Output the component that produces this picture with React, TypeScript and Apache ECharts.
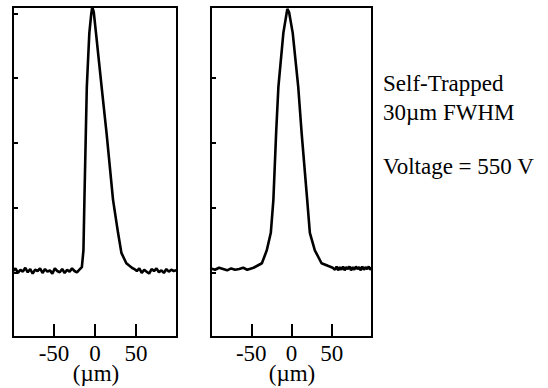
import React, { useEffect, useRef } from "react";
import * as echarts from "echarts";

const xTickValues = [-50, 0, 50];
const leftTickValues = [1, 2, 3, 4, 5];
const rightTickValues = [1, 2, 3, 4];

const leftX = [
  -100, -97, -94, -91, -88, -85, -82, -79, -76, -73, -70, -67, -64, -61, -58, -55, -52, -49, -46, -43,
  -40, -37, -34, -31, -28, -25, -22, -19, -16, -14.1, -12.9, -11.2, -10, -8.4, -6.9, -4.5, -3.3, -1.5,
  1.2, 4.5, 8.1, 14.1, 22, 28.1, 32.2, 38.2, 42, 45, 48, 51, 54, 57, 60, 63, 66, 69, 72, 75, 78, 81,
  84, 87, 90, 93, 96, 99, 100,
];
const leftY = [
  1.02, 1.06, 0.99, 1.04, 1.01, 1.07, 1.0, 1.05, 0.98, 1.04, 1.02, 1.06, 0.99, 1.05, 1.01, 1.03, 0.98, 1.06, 1.02, 1.0,
  1.05, 0.99, 1.04, 1.01, 1.06, 1.02, 1.0, 1.04, 1.08, 1.34, 2.12, 3.15, 3.86, 4.3, 4.7, 5.0, 5.1, 5.02,
  4.7, 4.3, 3.86, 3.15, 2.12, 1.61, 1.3, 1.14, 1.1, 1.07, 1.05, 1.02, 1.06, 0.99, 1.04, 1.01, 0.98, 1.05, 1.02, 1.06, 1.0, 1.03,
  0.99, 1.05, 1.01, 1.04, 1.02, 1.03, 1.03,
];

const rightX = [
  -100, -95, -90, -85, -80, -75, -70, -65, -60, -55, -50, -47.2, -36.8, -30.7, -25.7, -22.5, -19.1, -16.3,
  -10.1, -5.2, -3, 1.5, 8.4, 12.6, 19.5, 22.8, 29, 37.3, 45.1, 51.2, 54, 56, 58, 60, 62, 64, 66, 68, 70,
  72, 74, 76, 78, 80, 82, 84, 86, 88, 90, 92, 94, 96, 98, 100,
];
const rightY = [
  1.06, 1.04, 1.07, 1.05, 1.03, 1.06, 1.04, 1.05, 1.07, 1.04, 1.06, 1.07, 1.14, 1.34, 1.61, 2.12, 3.15, 3.86,
  4.7, 5.07, 5.02, 4.7, 3.86, 3.15, 2.12, 1.61, 1.34, 1.14, 1.1, 1.07, 1.04, 1.09, 1.03, 1.08, 1.04, 1.09, 1.03, 1.08, 1.05,
  1.09, 1.03, 1.08, 1.04, 1.09, 1.05, 1.08, 1.03, 1.09, 1.04, 1.08, 1.05, 1.09, 1.04, 1.07,
];

const annotations = ["Self-Trapped", "30\u00b5m FWHM", "Voltage = 550 V"];
const xName = "(\u00b5m)";

const FONT = "Liberation Serif";
const FS = 23;

function makeX(gridIndex: number) {
  return {
    type: "value",
    gridIndex,
    min: -100,
    max: 100,
    axisLine: { show: false, onZero: false },
    splitLine: { show: false },
    axisTick: {
      show: true,
      inside: true,
      length: 13,
      customValues: xTickValues,
      lineStyle: { color: "#000", width: 2 },
    },
    axisLabel: {
      show: true,
      customValues: xTickValues,
      margin: 5,
      fontFamily: FONT,
      fontSize: FS,
      color: "#000",
    },
  };
}

function makeY(gridIndex: number, ticks: number[]) {
  return {
    type: "value",
    gridIndex,
    min: 0,
    max: 5.1,
    axisLine: { show: false, onZero: false },
    splitLine: { show: false },
    axisLabel: { show: false },
    axisTick: {
      show: true,
      inside: true,
      length: 5,
      customValues: ticks,
      lineStyle: { color: "#000", width: 2 },
    },
  };
}

export default function App() {
  const ref = useRef<HTMLDivElement>(null);
  useEffect(() => {
    if (!ref.current) return;
    const chart = echarts.init(ref.current, null, { renderer: "svg" });
    const lineStyle = { color: "#000", width: 2.6 };
    const textStyle = (t: string) => ({ text: t, fontFamily: FONT, fontSize: FS, fill: "#000" });
    chart.setOption({
      animation: false,
      backgroundColor: "#fff",
      textStyle: { fontFamily: FONT },
      grid: [
        { left: 13, top: 7, width: 164, height: 330, show: true, borderColor: "#000", borderWidth: 2, containLabel: false, outerBoundsMode: "none" },
        { left: 211, top: 7, width: 161, height: 330, show: true, borderColor: "#000", borderWidth: 2, containLabel: false, outerBoundsMode: "none" },
      ],
      xAxis: [makeX(0), makeX(1)],
      yAxis: [makeY(0, leftTickValues), makeY(1, rightTickValues)],
      series: [
        {
          type: "line",
          xAxisIndex: 0,
          yAxisIndex: 0,
          showSymbol: false,
          lineStyle,
          data: leftX.map((x, i) => [x, leftY[i]]),
        },
        {
          type: "line",
          xAxisIndex: 1,
          yAxisIndex: 1,
          showSymbol: false,
          lineStyle,
          data: rightX.map((x, i) => [x, rightY[i]]),
        },
      ],
      graphic: [
        { type: "text", left: 383, top: 72, style: textStyle(annotations[0]) },
        { type: "text", left: 383, top: 101, style: textStyle(annotations[1]) },
        { type: "text", left: 383, top: 155, style: textStyle(annotations[2]) },
        { type: "text", x: 96, y: 362, style: { ...textStyle(xName), align: "center", verticalAlign: "top" } },
        { type: "text", x: 292, y: 362, style: { ...textStyle(xName), align: "center", verticalAlign: "top" } },
      ],
    });
    return () => chart.dispose();
  }, []);
  return <div ref={ref} style={{ width: 548, height: 388, position: "absolute", left: 0, top: 0 }} />;
}
